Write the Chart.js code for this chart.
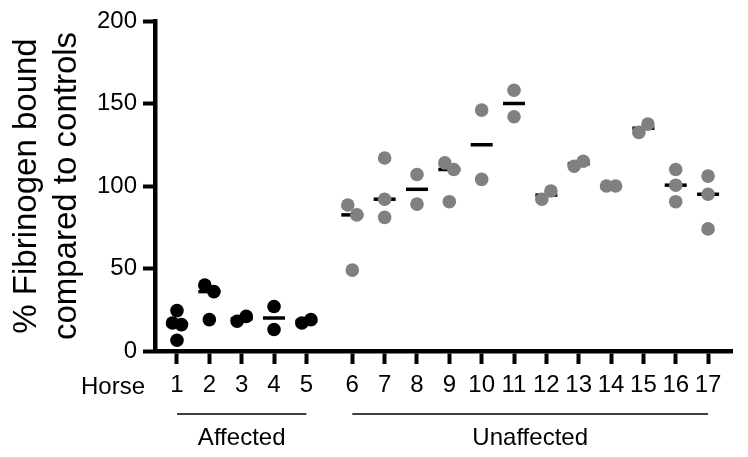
<!DOCTYPE html>
<html>
<head>
<meta charset="utf-8">
<script src="https://cdn.jsdelivr.net/npm/chart.js@4.4.1/dist/chart.umd.min.js"></script>
<style>
  html, body { margin: 0; padding: 0; background: #fff; }
</style>
</head>
<body>
<canvas id="myChart" width="748" height="457"></canvas>
<script>
const horseLabels = ["1", "2", "3", "4", "5", "6", "7", "8", "9", "10", "11", "12", "13", "14", "15", "16", "17"];
const affectedHorses = [1, 2, 3, 4, 5];
const affectedValues = [[24.5, 17, 16, 6.5], [40, 36, 19], [18, 21], [27, 13], [17, 19]];
const unaffectedHorses = [6, 7, 8, 9, 10, 11, 12, 13, 14, 15, 16, 17];
const unaffectedValues = [
  [88.5, 82.5, 49], [117, 92, 81], [107, 89], [114, 110, 90.5], [146, 104], [158, 142],
  [92, 97], [112, 115], [100, 100], [132.5, 137.5], [110, 100.5, 90.5], [106, 95, 74]
];
const groupNames = ["Affected", "Unaffected"];
const yTicks = [0, 50, 100, 150, 200];

const FONT = '"Liberation Sans", Arial, sans-serif';
const GAP = 0.42; // space between the two groups on the x axis

function horsePos(h) {
  return h <= 5 ? h : h + GAP;
}

function median(vals) {
  let s = [...vals].sort((a, b) => a - b);
  let m = Math.floor(s.length / 2);
  return s.length % 2 ? s[m] : (s[m - 1] + s[m]) / 2;
}

// points that would overlap get pushed a bit left / right, like prism does
function toPoints(horses, values) {
  let pts = [];
  horses.forEach((h, i) => {
    let vals = values[i];
    let shift = vals.map(() => 0);
    for (let a = 0; a < vals.length; a++) {
      for (let b = a + 1; b < vals.length; b++) {
        if (Math.abs(vals[a] - vals[b]) < 7 && shift[a] === 0 && shift[b] === 0) {
          shift[a] = -0.14;
          shift[b] = 0.14;
        }
      }
    }
    vals.forEach((v, k) => pts.push({ x: horsePos(h) + shift[k], y: v }));
  });
  return pts;
}

function toMedians(horses, values) {
  return horses.map((h, i) => ({ x: horsePos(h), y: median(values[i]) }));
}

const groupLabels = {
  id: "groupLabels",
  afterDraw(chart) {
    const ctx = chart.ctx;
    const xs = chart.scales.x;
    const base = chart.chartArea.bottom;
    const px = (h) => xs.getPixelForValue(horsePos(h));
    ctx.save();
    ctx.fillStyle = "#000";
    ctx.strokeStyle = "#000";
    ctx.font = "24px " + FONT;
    ctx.textBaseline = "middle";
    ctx.textAlign = "right";
    ctx.fillText("Horse", px(1) - 32, base + 36);

    let groups = [[affectedHorses[0], affectedHorses[affectedHorses.length - 1]],
                  [unaffectedHorses[0], unaffectedHorses[unaffectedHorses.length - 1]]];
    ctx.lineWidth = 1.5;
    ctx.textAlign = "center";
    groups.forEach((g, i) => {
      let x0 = px(g[0]), x1 = px(g[1]);
      ctx.beginPath();
      ctx.moveTo(x0, base + 63);
      ctx.lineTo(x1, base + 63);
      ctx.stroke();
      ctx.fillText(groupNames[i], (x0 + x1) / 2, base + 87);
    });
    ctx.restore();
  }
};

const axisGrid = {
  drawOnChartArea: false,
  drawTicks: true,
  tickLength: 12,
  tickWidth: 4,
  tickColor: "#000"
};

var ctx = document.getElementById("myChart").getContext("2d");
var myChart = new Chart(ctx, {
  type: "scatter",
  data: {
    datasets: [
      {
        label: "Affected",
        data: toPoints(affectedHorses, affectedValues),
        backgroundColor: "#000000",
        borderWidth: 0,
        pointRadius: 6.8,
        order: 0
      },
      {
        label: "Unaffected",
        data: toPoints(unaffectedHorses, unaffectedValues),
        backgroundColor: "#808080",
        borderWidth: 0,
        pointRadius: 6.8,
        order: 0
      },
      {
        label: "Median",
        data: toMedians(affectedHorses, affectedValues).concat(toMedians(unaffectedHorses, unaffectedValues)),
        pointStyle: "line",
        pointRadius: 11,
        borderWidth: 3.5,
        borderColor: "#000000",
        order: 1
      }
    ]
  },
  options: {
    responsive: false,
    animation: false,
    events: [],
    layout: { padding: { top: 21, right: 16, left: 0, bottom: 0 } },
    plugins: {
      legend: { display: false },
      tooltip: { enabled: false }
    },
    scales: {
      x: {
        type: "linear",
        min: 0.32,
        max: 18.16,
        afterBuildTicks: (scale) => {
          scale.ticks = horseLabels.map((l, i) => ({ value: horsePos(i + 1) }));
        },
        afterFit: (scale) => { scale.height = 106; },
        ticks: {
          autoSkip: false,
          maxRotation: 0,
          padding: 7,
          color: "#000",
          font: { size: 24, family: FONT },
          callback: (v, i) => horseLabels[i]
        },
        grid: Object.assign({}, axisGrid, { tickLength: 13 }),
        border: { display: true, width: 4.5, color: "#000" }
      },
      y: {
        min: 0,
        max: 200,
        afterBuildTicks: (scale) => {
          scale.ticks = yTicks.map((v) => ({ value: v }));
        },
        afterFit: (scale) => { scale.width = 155; },
        ticks: {
          padding: 6,
          color: "#000",
          font: { size: 24, family: FONT }
        },
        grid: axisGrid,
        border: { display: true, width: 4.5, color: "#000" },
        title: {
          display: true,
          text: ["% Fibrinogen bound", "compared to controls"],
          color: "#000",
          font: { size: 33, family: FONT, lineHeight: 1.22 },
          padding: { top: 7, bottom: 0 }
        }
      }
    }
  },
  plugins: [groupLabels]
});
</script>
</body>
</html>
